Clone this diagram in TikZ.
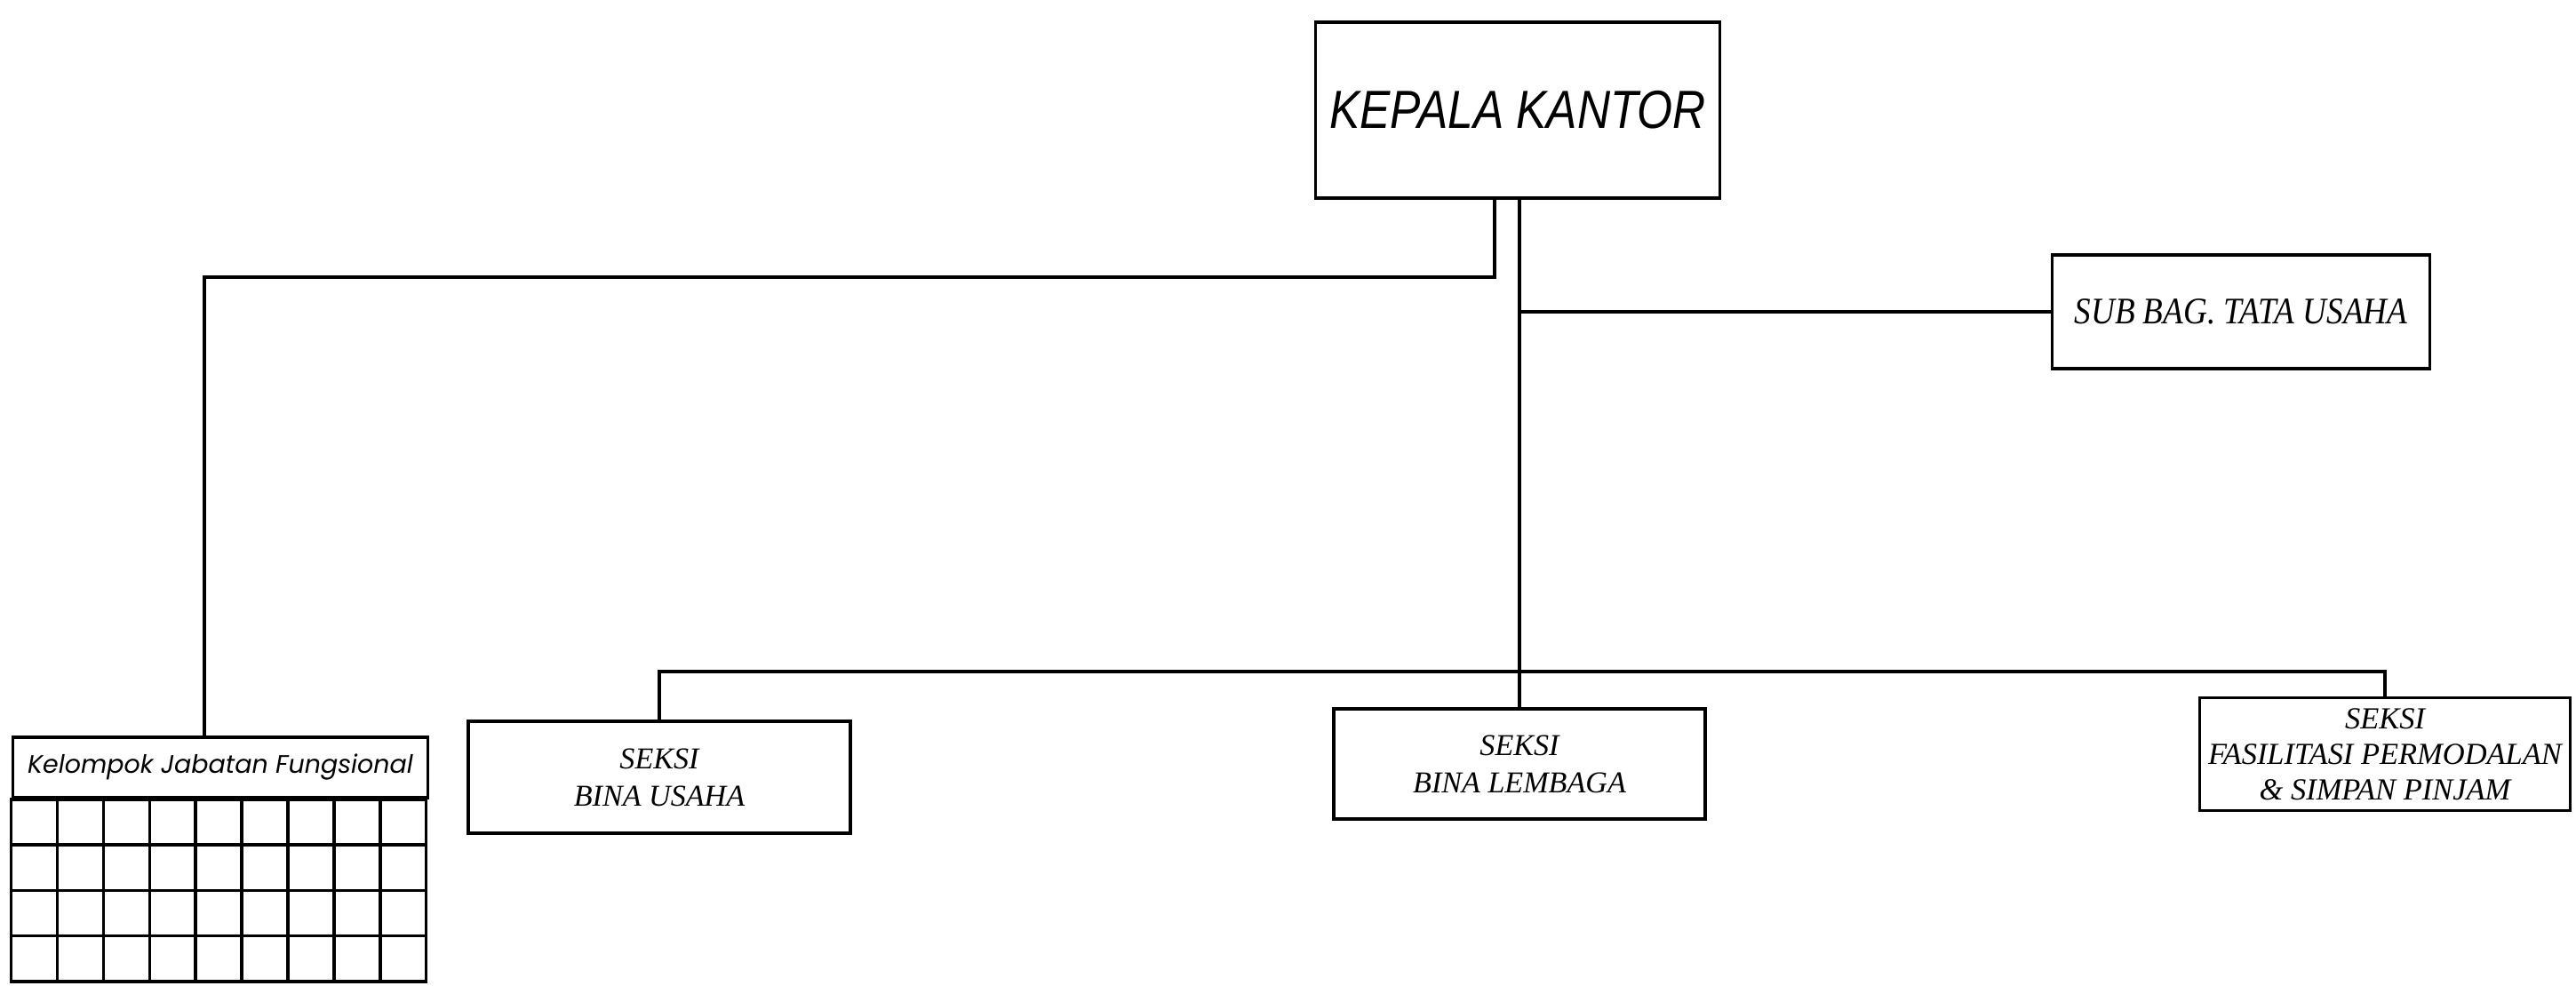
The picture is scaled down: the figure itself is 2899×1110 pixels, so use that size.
\documentclass[tikz,border=0pt]{standalone}
\usepackage{fontspec}
\setmainfont{Liberation Serif}
\newfontfamily\kepalafont[FakeStretch=0.85]{Liberation Sans}
\newfontfamily\tufont[FakeStretch=0.88]{Liberation Serif}
\newfontfamily\kjffont{Poppins}
\usepackage{tikz}
\usetikzlibrary{calc, positioning}

\tikzset{
    kotak/.style={draw, line width=1pt, inner sep=0pt, align=center,
        font=\itshape\fontsize{9.7}{12}\selectfont},
    garis/.style={line width=1pt}
}

\begin{document}
\begin{tikzpicture}[x=0.01cm, y=-0.01cm]
    % 1. Batas gambar
    \useasboundingbox (0,0) rectangle (2899,1110);

    % 2. Kotak jabatan
    \node[kotak, minimum width=4.55cm, minimum height=1.98cm,
        font=\kepalafont\itshape\fontsize{17.2}{20}\selectfont] (kepala) at (1708,124) {KEPALA KANTOR};
    \node[kotak, minimum width=4.25cm, minimum height=1.28cm,
        font=\tufont\itshape\fontsize{12}{14}\selectfont] (tatausaha) at (2522,351) {SUB BAG. TATA USAHA};
    \node[kotak, minimum width=4.30cm, minimum height=1.26cm] (usaha) at (742,875) {SEKSI\\BINA USAHA};
    \node[kotak, minimum width=4.18cm, minimum height=1.24cm] (lembaga) at (1710,860) {SEKSI\\BINA LEMBAGA};
    \node[kotak, minimum width=4.17cm, minimum height=1.27cm,
        font=\itshape\fontsize{9.8}{11.4}\selectfont] (fasilitasi) at (2684,849) {SEKSI\\FASILITASI PERMODALAN\\\& SIMPAN PINJAM};

    % 3. Kelompok jabatan fungsional (judul + kisi 9 x 4)
    \node[kotak, minimum width=4.67cm, minimum height=0.68cm,
        font=\kjffont\itshape\fontsize{8.1}{10}\selectfont] (kjf) at (248,864) {Kelompok Jabatan Fungsional};
    \draw[garis] (kjf.south west) rectangle ++(467,205);
    \foreach \i in {1,...,8}
        \draw[garis] ($(kjf.south west)+(\i*51.9,0)$) -- ++(0,205);
    \foreach \j in {1,...,3}
        \draw[garis] ($(kjf.south west)+(0,\j*51.25)$) -- ++(467,0);

    % 4. Garis penghubung
    \coordinate (belok) at (1682,312);
    \coordinate (kjfatas) at (230,830);
    \coordinate (bus) at (1710,756);
    \draw[garis] (kepala.south -| belok) -- (belok) -| (kjfatas);
    \draw[garis] (kepala.south -| lembaga.north) -- (lembaga.north);
    \draw[garis] (tatausaha.west -| lembaga.north) -- (tatausaha.west);
    \draw[garis] (usaha.north) |- (bus) -| (fasilitasi.north);
\end{tikzpicture}
\end{document}
